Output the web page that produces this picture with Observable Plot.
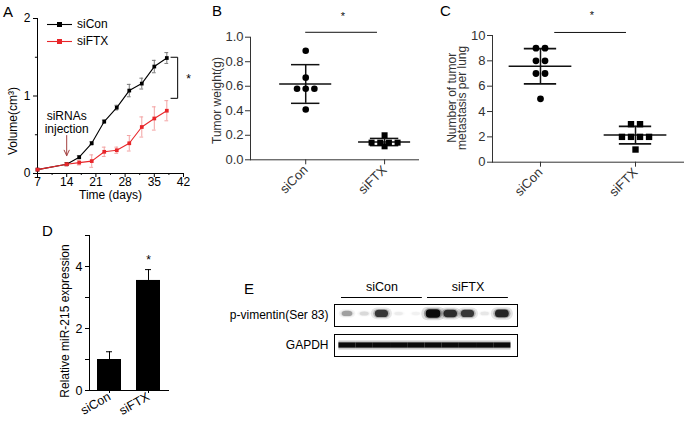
<!DOCTYPE html>
<html><head><meta charset="utf-8">
<script src="https://cdn.jsdelivr.net/npm/d3@7"></script>
<script src="https://cdn.jsdelivr.net/npm/@observablehq/plot@0.6"></script>
<style>
body{margin:0;background:#fff;}
#fig{position:relative;width:685px;height:424px;overflow:hidden;font-family:"Liberation Sans",Arial,sans-serif;background:#fff;color:#000}
.p{position:absolute}
.lt{position:absolute;font-size:15px;line-height:1}
.lg{font-size:12px;line-height:17px;height:17px;display:flex;align-items:center}
</style></head><body><div id="fig"></div>
<script>
// ---------- data ----------
const days = [7, 14, 17, 20, 23, 26, 29, 32, 35, 38];
const siConVol = [0.05, 0.12, 0.21, 0.39, 0.67, 0.85, 1.07, 1.16, 1.38, 1.49];
const siConErr = [0, 0.02, 0.02, 0.02, 0.02, 0.03, 0.08, 0.07, 0.08, 0.07];
const siFTXVol = [0.05, 0.12, 0.14, 0.16, 0.28, 0.30, 0.39, 0.60, 0.71, 0.81];
const siFTXErr = [0, 0.02, 0.03, 0.08, 0.06, 0.04, 0.10, 0.13, 0.15, 0.13];
const seriesNames = ["siCon", "siFTX"];
const seriesColors = ["#000000", "#e8262a"];
const errColors = ["#7a7a7a", "#f3a3a3"];
const injectionDay = 14;

const groups = ["siCon", "siFTX"];
const weightSiCon = [0.89, 0.67, 0.58, 0.58, 0.58, 0.41];
const weightSiFTX = [0.20, 0.14, 0.14, 0.14, 0.14, 0.11];
const metSiCon = [9, 9, 8, 8, 7, 7, 5];
const metSiFTX = [3, 3, 2, 2, 2, 2, 1];

const mirMean = [1.0, 3.55];
const mirErr = [0.25, 0.35];

const blotRows = ["p-vimentin(Ser 83)", "GAPDH"];
const lanes = [1, 2, 3, 4, 5, 6, 7, 8, 9, 10];
const pvimIntensity = [0.4, 0.18, 0.8, 0.1, 0.08, 1.0, 0.85, 0.8, 0.12, 0.88];
const gapdhIntensity = [0.95, 0.95, 0.95, 0.95, 0.95, 0.95, 0.95, 0.95, 0.95, 0.95];
const laneGroups = [{name: "siCon", first: 1, last: 5}, {name: "siFTX", first: 6, last: 10}];

// ---------- helpers ----------
const fig = document.getElementById("fig");
const FONT = "Liberation Sans, Arial, sans-serif";
function place(node, left, top) {
  const d = document.createElement("div");
  d.className = "p"; d.style.left = left + "px"; d.style.top = top + "px";
  d.appendChild(node); fig.appendChild(d); return d;
}
function letter(t, left, top) {
  const d = document.createElement("div");
  d.className = "lt"; d.textContent = t; d.style.left = left + "px"; d.style.top = top + "px";
  fig.appendChild(d);
}
function baseStyle(color, size) {
  return {fontFamily: FONT, fontSize: (size || 12) + "px", color: color || "#000", background: "transparent", overflow: "visible", maxWidth: "none"};
}
function swarm(values, spacing) {
  const counts = d3.rollup(values, v => v.length, v => v);
  const seen = new Map();
  return values.map(v => {
    const n = counts.get(v), k = seen.get(v) || 0;
    seen.set(v, k + 1);
    return (k - (n - 1) / 2) * spacing;
  });
}
function scatterData(a, b, spacing) {
  const out = [];
  [a, b].forEach((vals, gi) => {
    const off = swarm(vals, spacing);
    vals.forEach((v, i) => out.push({g: gi, v, x: gi + off[i]}));
  });
  return out;
}
function statsOf(a, b) {
  return [a, b].map((vals, gi) => ({g: gi, mean: d3.mean(vals), sd: d3.deviation(vals)}));
}
const vlabel = (txt, dx, dy, extra) => Plot.text([txt], Object.assign({frameAnchor: "left", dx, dy, rotate: -90, textAnchor: "middle", lineAnchor: "middle", fontSize: 12}, extra || {}));

// ---------- Panel A ----------
const volData = [];
days.forEach((d, i) => {
  volData.push({day: d, v: siConVol[i], e: siConErr[i], s: "siCon"});
  volData.push({day: d, v: siFTXVol[i], e: siFTXErr[i], s: "siFTX"});
});
const minorX = [10.5, 17.5, 24.5, 31.5, 38.5];
const minorY = [0.5, 1.5];
const bracket = {x0: 39.0, x: 40.6, top: 1.5, bottom: 0.97};
const markA = [];
seriesNames.forEach((s, si) => {
  const dd = volData.filter(d => d.s === s && d.e > 0);
  markA.push(Plot.ruleX(dd, {x: "day", y1: d => d.v - d.e, y2: d => d.v + d.e, stroke: errColors[si], strokeWidth: 1}));
  markA.push(Plot.ruleY(dd, {y: d => d.v + d.e, x1: d => d.day - 0.45, x2: d => d.day + 0.45, stroke: errColors[si]}));
  markA.push(Plot.ruleY(dd, {y: d => d.v - d.e, x1: d => d.day - 0.45, x2: d => d.day + 0.45, stroke: errColors[si]}));
});
seriesNames.forEach((s, si) => {
  const dd = volData.filter(d => d.s === s);
  markA.push(Plot.line(dd, {x: "day", y: "v", stroke: seriesColors[si], strokeWidth: 1.1}));
  markA.push(Plot.dot(dd, {x: "day", y: "v", symbol: "square", r: 2.1, fill: seriesColors[si], stroke: "none"}));
});
const plotA = Plot.plot({
  width: 200, height: 205, marginLeft: 37, marginRight: 17, marginTop: 18, marginBottom: 32,
  style: baseStyle("#000", 12),
  x: {domain: [7, 42], ticks: [7, 14, 21, 28, 35, 42], tickFormat: d => String(d), tickSize: 4, tickPadding: 0, label: null, line: true},
  y: {domain: [0, 2], ticks: [0, 1, 2], tickFormat: d => String(d), tickSize: 4, tickPadding: 3, label: null, line: true},
  marks: [
    Plot.ruleX(minorX, {x: d => d, y1: 0, y2: -0.025, stroke: "#000"}),
    Plot.ruleY(minorY, {y: d => d, x1: 7, x2: 6.5, stroke: "#000"}),
    ...markA,
    Plot.arrow([injectionDay], {x1: d => d, x2: d => d, y1: () => 0.49, y2: () => 0.23, stroke: "#a3403f", strokeWidth: 1, headLength: 9, headAngle: 50}),
    Plot.text([injectionDay], {x: d => d, y: () => 0.665, text: () => "siRNAs\ninjection", fontSize: 12, lineHeight: 1.08, fill: "#000"}),
    Plot.line([[bracket.x0, bracket.top], [bracket.x, bracket.top], [bracket.x, bracket.bottom], [bracket.x0, bracket.bottom]], {stroke: "#000", strokeWidth: 1}),
    Plot.text(["*"], {x: () => 43.2, y: () => (bracket.top + bracket.bottom) / 2 - 0.02, fontSize: 12}),
    vlabel("Volume(cm³)", -24, 25),
    Plot.text(["Time (days)"], {frameAnchor: "bottom", dy: 25, fontSize: 12})
  ]
});
place(plotA, 0, 0);
// legend
const leg = document.createElement("div");
seriesNames.forEach((name, i) => {
  const row = document.createElement("div");
  row.className = "lg";
  row.innerHTML = `<svg width="26" height="17" style="display:block"><line x1="0" x2="25" y1="8.5" y2="8.5" stroke="${seriesColors[i]}" stroke-width="1.1"/><rect x="10" y="6" width="5" height="5" fill="${seriesColors[i]}"/></svg><span style="margin-left:4px">${name}</span>`;
  leg.appendChild(row);
});
place(leg, 47, 15.5);

// ---------- Panel B ----------
const wPts = scatterData(weightSiCon, weightSiFTX, 0.11);
const wStats = statsOf(weightSiCon, weightSiFTX);
const plotB = Plot.plot({
  width: 240, height: 200, marginLeft: 60, marginRight: 12, marginTop: 36.7, marginBottom: 40.7,
  style: baseStyle("#333", 13),
  x: {domain: [-0.70, 1.43], ticks: [0, 1], tickFormat: i => groups[i], tickRotate: -45, tickSize: 5, tickPadding: 3, label: null, line: true},
  y: {domain: [0, 1], ticks: [0, 0.2, 0.4, 0.6, 0.8, 1], tickFormat: ".1f", tickSize: 5, tickPadding: 2, label: null, line: true},
  marks: [
    Plot.ruleX(wStats, {x: "g", y1: d => d.mean - d.sd, y2: d => d.mean + d.sd, stroke: "#111", strokeWidth: 1.5}),
    Plot.ruleY(wStats, {y: "mean", x1: d => d.g - 0.33, x2: d => d.g + 0.33, stroke: "#111", strokeWidth: 1.5}),
    Plot.ruleY(wStats, {y: d => d.mean + d.sd, x1: d => d.g - 0.18, x2: d => d.g + 0.18, stroke: "#111", strokeWidth: 1.5}),
    Plot.ruleY(wStats, {y: d => d.mean - d.sd, x1: d => d.g - 0.18, x2: d => d.g + 0.18, stroke: "#111", strokeWidth: 1.5}),
    Plot.dot(wPts.filter(d => d.g === 0), {x: "x", y: "v", r: 3.3, fill: "#000", stroke: "none"}),
    Plot.dot(wPts.filter(d => d.g === 1), {x: "x", y: "v", r: 3.4, symbol: "square", fill: "#000", stroke: "none"}),
    Plot.ruleY([{x1: 0, x2: 0.91, y: 1.04}], {x1: "x1", x2: "x2", y: "y", stroke: "#111", strokeWidth: 1}),
    Plot.text(["*"], {x: () => 0.47, y: () => 1.17, fontSize: 11, fill: "#111"}),
    vlabel("Tumor weight(g)", -33, 2, {fill: "#333"})
  ]
});
place(plotB, 190, 0);

// ---------- Panel C ----------
const mPts = scatterData(metSiCon, metSiFTX, 0.095);
const mStats = statsOf(metSiCon, metSiFTX);
const plotC = Plot.plot({
  width: 265, height: 200, marginLeft: 72, marginRight: 2, marginTop: 35, marginBottom: 38.3,
  style: baseStyle("#333", 13),
  x: {domain: [-0.505, 1.505], ticks: [0, 1], tickFormat: i => groups[i], tickRotate: -45, tickSize: 5, tickPadding: 3, label: null, line: true},
  y: {domain: [0, 10], ticks: [0, 2, 4, 6, 8, 10], tickFormat: d => String(d), tickSize: 5, tickPadding: 2, label: null, line: true},
  marks: [
    Plot.ruleX(mStats, {x: "g", y1: d => d.mean - d.sd, y2: d => d.mean + d.sd, stroke: "#111", strokeWidth: 1.5}),
    Plot.ruleY(mStats, {y: "mean", x1: d => d.g - 0.33, x2: d => d.g + 0.33, stroke: "#111", strokeWidth: 1.5}),
    Plot.ruleY(mStats, {y: d => d.mean + d.sd, x1: d => d.g - 0.17, x2: d => d.g + 0.17, stroke: "#111", strokeWidth: 1.8}),
    Plot.ruleY(mStats, {y: d => d.mean - d.sd, x1: d => d.g - 0.17, x2: d => d.g + 0.17, stroke: "#111", strokeWidth: 1.8}),
    Plot.dot(mPts.filter(d => d.g === 0), {x: "x", y: "v", r: 3.4, fill: "#000", stroke: "none"}),
    Plot.dot(mPts.filter(d => d.g === 1), {x: "x", y: "v", r: 3.6, symbol: "square", fill: "#000", stroke: "none"}),
    Plot.ruleY([{x1: 0.15, x2: 0.905, y: 10.24}], {x1: "x1", x2: "x2", y: "y", stroke: "#111", strokeWidth: 1}),
    Plot.text(["*"], {x: () => 0.54, y: () => 11.55, fontSize: 11, fill: "#111"}),
    vlabel("Number of tumor\nmetastasis per lung", -35, -1, {lineHeight: 0.85, fill: "#333"})
  ]
});
place(plotC, 420, 0);

// ---------- Panel D ----------
const mirData = groups.map((g, i) => ({g, v: mirMean[i], e: mirErr[i]}));
const plotD = Plot.plot({
  width: 140, height: 209, marginLeft: 49, marginRight: 12, marginTop: 20, marginBottom: 34,
  style: baseStyle("#000", 12.5),
  x: {domain: groups, paddingInner: 0.39, paddingOuter: 0.2, tickRotate: -30, tickSize: 3, tickPadding: 2, label: null, line: true},
  y: {domain: [0, 5], ticks: [0, 1, 2, 3, 4, 5], tickFormat: d => (d % 2 === 0 ? String(d) : ""), tickSize: 4, tickPadding: 3, label: null, line: true},
  marks: [
    Plot.ruleX(mirData, {x: "g", y1: "v", y2: d => d.v + d.e, stroke: "#000", strokeWidth: 1}),
    Plot.tickY(mirData, {x: "g", y: d => d.v + d.e, insetLeft: 9, insetRight: 9, stroke: "#000", strokeWidth: 1}),
    Plot.barY(mirData, {x: "g", y: "v", fill: "#000"}),
    Plot.text(mirData.filter(d => d.g === "siFTX"), {x: "g", y: d => d.v + d.e, dy: -9, text: () => "*", fontSize: 12}),
    vlabel("Relative miR-215 expression", -24, 8)
  ]
});
place(plotD, 40, 215);

// ---------- Panel E ----------
const blotData = [];
lanes.forEach((l, i) => {
  blotData.push({row: blotRows[0], lane: l, v: pvimIntensity[i]});
  blotData.push({row: blotRows[1], lane: l, v: gapdhIntensity[i]});
});
function geom(d, grow) {
  if (d.row === "GAPDH") {
    const h = 0.24 * grow;
    return {x1: d.lane - 0.5, x2: d.lane + 0.5, y1: 0.5 - h / 2, y2: 0.5 + h / 2};
  }
  const w = (0.45 + 0.4 * d.v) * grow, h = (0.14 + 0.24 * d.v) * grow, c = 0.57;
  return {x1: d.lane - w / 2, x2: d.lane + w / 2, y1: c - h / 2, y2: c + h / 2};
}
const isP = d => d.row !== "GAPDH";
const isG = d => d.row === "GAPDH";
const rectOf = (grow, filter, fillOpacity, rx) => Plot.rect(blotData, {
  filter, x1: d => geom(d, grow).x1, x2: d => geom(d, grow).x2, y1: d => geom(d, grow).y1, y2: d => geom(d, grow).y2,
  fill: "#000", fillOpacity, rx
});
const xE = {domain: [0.244, 10.88], axis: null};
const plotE = Plot.plot({
  width: 295, height: 60, marginLeft: 104, marginRight: 8, marginTop: 4, marginBottom: 4,
  style: baseStyle("#000"),
  facet: {data: blotData, y: "row"},
  fy: {domain: blotRows, paddingInner: 0.27, paddingOuter: 0, axis: "left", tickSize: 0, tickPadding: 6, label: null},
  x: xE,
  y: {domain: [0, 1], axis: null},
  opacity: {type: "identity"},
  marks: [
    rectOf(1.6, isP, d => 0.12 * d.v, 6),
    rectOf(1.25, isP, d => 0.3 * Math.pow(d.v, 1.3), 5),
    rectOf(1, isP, d => 0.92 * Math.pow(d.v, 1.3), 4),
    rectOf(1.7, isG, d => 0.22, 0),
    rectOf(1, isG, d => d.v, 0),
    Plot.frame({stroke: "#000", strokeWidth: 1})
  ]
});
place(plotE, 230, 300);
const plotEh = Plot.plot({
  width: 295, height: 26, marginLeft: 104, marginRight: 8, marginTop: 0, marginBottom: 5,
  style: baseStyle("#000"),
  x: xE,
  y: {domain: [0, 1], axis: null},
  marks: [
    Plot.ruleY(laneGroups, {y: () => 0, x1: d => d.first - 0.35, x2: d => d.last + 0.35, stroke: "#000", strokeWidth: 1}),
    Plot.text(laneGroups, {x: d => (d.first + d.last) / 2, frameAnchor: "middle", text: "name", fontSize: 12.5})
  ]
});
place(plotEh, 230, 276);

// ---------- panel letters ----------
letter("A", 3, 4);
letter("B", 212, 3);
letter("C", 440, 3);
letter("D", 42, 223);
letter("E", 244, 281);
</script></body></html>
